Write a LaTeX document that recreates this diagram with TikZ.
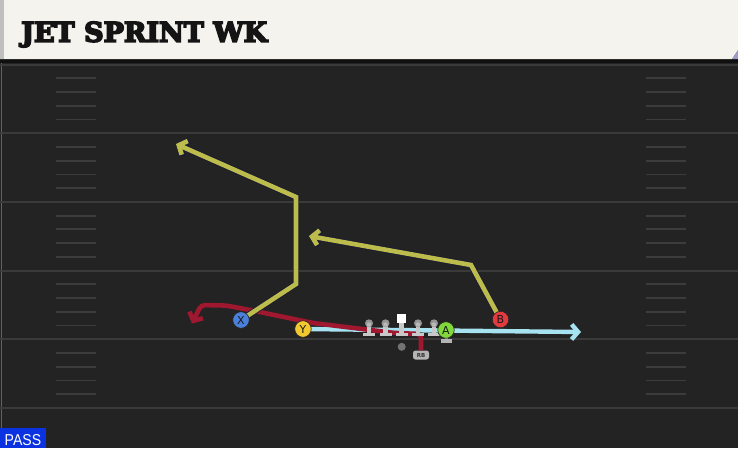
\documentclass[tikz,border=0pt]{standalone}
\usepackage{fontspec}
\usepackage{graphicx}
\setmainfont{DejaVu Sans}
\newfontfamily\titlefont{DejaVu Serif}
\newfontfamily\passfont{Liberation Sans}
\usetikzlibrary{arrows.meta,calc}
\definecolor{fieldbg}{HTML}{232323}
\definecolor{yardline}{HTML}{3A3A3A}
\definecolor{hashc}{HTML}{3C3C3C}
\definecolor{headerbg}{HTML}{F5F3EE}
\definecolor{olive}{HTML}{BCBC4C}
\definecolor{oliveout}{HTML}{1C1C34}
\definecolor{redroute}{HTML}{A01830}
\definecolor{cyanroute}{HTML}{A6E2EF}
\definecolor{xblue}{HTML}{4A80DA}
\definecolor{yyellow}{HTML}{F2C830}
\definecolor{agreen}{HTML}{80D83A}
\definecolor{bred}{HTML}{E23A3E}
\definecolor{linehead}{HTML}{959595}
\definecolor{linebody}{HTML}{C8C8C8}
\definecolor{passblue}{HTML}{0A32E0}
\newcommand\titletext{\resizebox{246pt}{20pt}{\special{pdf:code 2 Tr 0.6 w}\titlefont\bfseries JET SPRINT WK\special{pdf:code 0 Tr}}}
\tikzset{
  yline/.style={draw=yardline, line width=2pt},
  hashmark/.style={draw=hashc, line width=1.8pt},
  titlestyle/.style={anchor=base west, inner sep=0pt},
  olout/.style={draw=oliveout, line width=6.4pt, line join=miter,
    -{Straight Barb[length=7pt,width=17pt]}},
  olin/.style={draw=olive, line width=4.6pt, line join=miter,
    -{Straight Barb[length=6.5pt,width=15pt]}},
  redr/.style={draw=redroute, line width=4.6pt, rounded corners=4pt,
    -{Straight Barb[length=6.5pt,width=15pt]}},
  cyanr/.style={draw=cyanroute, line width=4.4pt,
    -{Straight Barb[length=6.5pt,width=15pt]}},
  player/.style={circle, minimum size=16.5pt, inner sep=0pt, draw=black!85,
    line width=0.6pt, text=black!90, font=\fontsize{11}{11}\selectfont},
  rbbox/.style={rounded corners=2.5pt, minimum width=16pt, minimum height=9pt,
    inner sep=0pt, fill=linebody!90!black, text=black!80,
    font=\bfseries\fontsize{5.5}{5.5}\selectfont},
}
\newcommand\lineman[1]{%
  \fill[linebody] ($(#1)+(-6,9.5)$) rectangle ($(#1)+(6,13)$);
  \fill[linebody] ($(#1)+(-2.2,1)$) rectangle ($(#1)+(2.2,10)$);
  \fill[linehead] (#1) circle (4pt);
  \fill[linebody!70!linehead] ($(#1)+(0,1.2)$) circle (2.2pt);
}
\begin{document}
\begin{tikzpicture}[x=1pt,y=-1pt]
\useasboundingbox (0,0) rectangle (738,448);
% field
\fill[fieldbg] (0,0) rectangle (738,448);
\fill[black!55!fieldbg] (0,59) rectangle (738,63);
\draw[yardline!80!white, line width=1pt] (1.5,63) -- (1.5,428);
\foreach \k in {0,...,5}{
  \pgfmathsetmacro\yy{64.5+68.7*\k}
  \draw[yline] (0,\yy) -- (738,\yy);
}
\foreach \k in {0,...,4}{
  \foreach \j in {1,...,4}{
    \pgfmathsetmacro\yy{64.5+68.7*\k+13.74*\j}
    \draw[hashmark] (56,\yy) -- (96,\yy);
    \draw[hashmark] (646,\yy) -- (686,\yy);
  }
}
% header
\fill[headerbg] (0,0) -- (738,0) -- (738,50) -- (732,59) -- (0,59) -- cycle;
\fill[black!25] (0,0) rectangle (4,59);
\fill[gray!70!blue!60] (732,59) -- (738,50) -- (738,59) -- cycle;
\node[titlestyle, text=black!92] (title) at (21,41.7) {\titletext};
% players (positions)
\coordinate (Xp) at (241,320);
\coordinate (Yp) at (303,329);
\coordinate (Ap) at (446,330);
\coordinate (Bp) at (500.5,319.5);
\coordinate (L1) at (369,323.3);
\coordinate (L2) at (385.5,323.3);
\coordinate (C) at (401.5,323.3);
\coordinate (L4) at (418,323.3);
\coordinate (L5) at (434,323.3);
% route waypoints
\coordinate (x1) at (296,284);
\coordinate (x2) at (296,197);
\coordinate (x3) at (176,144);
\coordinate (b1) at (471,265);
\coordinate (b2) at (309,236);
\coordinate (c1) at (581,332);
\coordinate (r1) at (421,334);
\coordinate (r2) at (395,333);
\coordinate (r3) at (313,323);
\coordinate (r4) at (250,310);
\coordinate (r5) at (226,305.5);
\coordinate (r6) at (201,305);
\coordinate (r7) at (192,323.5);
% RB
\node[rbbox] (RB) at (421,355) {RB};
% routes
\draw[cyanr] (Yp) -- (c1);
\draw[redr] (RB.north) -- (r1) -- (r2) -- (r3) -- (r4) -- (r5) -- (r6) -- (r7);
\draw[olout] (Xp) -- (x1) -- (x2) -- (x3);
\draw[olin] (Xp) -- (x1) -- (x2) -- (x3);
\draw[olout] (Bp) -- (b1) -- (b2);
\draw[olin] (Bp) -- (b1) -- (b2);
% line
\lineman{L1}
\lineman{L2}
\lineman{L4}
\lineman{L5}
\fill[linebody] ($(C)+(-6,9.5)$) rectangle ($(C)+(6,13)$);
\fill[linebody] ($(C)+(-2.2,-1)$) rectangle ($(C)+(2.2,10)$);
\fill[white] ($(C)+(-4.6,-9.5)$) rectangle ($(C)+(4.6,-0.5)$);
% A stance marker
\fill[linebody!90!black] (440.5,339.3) rectangle (451.5,343.3);
\fill[linebody!90!black] (444.5,336) rectangle (447.5,340);
% snap dot
\fill[black!55] (401.7,346.8) circle (4pt);
% player nodes
\node[player, fill=xblue] (X) at (Xp) {X};
\node[player, fill=yyellow] (Y) at (Yp) {Y};
\node[player, fill=agreen] (A) at (Ap) {A};
\node[player, fill=bred] (B) at (Bp) {B};
% pass tag
\fill[passblue] (0,428) rectangle (45.5,448);
\node[anchor=base west, inner sep=0pt, text=white] (pass) at (4.5,445.3) {\resizebox{36.5pt}{11pt}{\passfont PASS}};
\end{tikzpicture}
\end{document}
